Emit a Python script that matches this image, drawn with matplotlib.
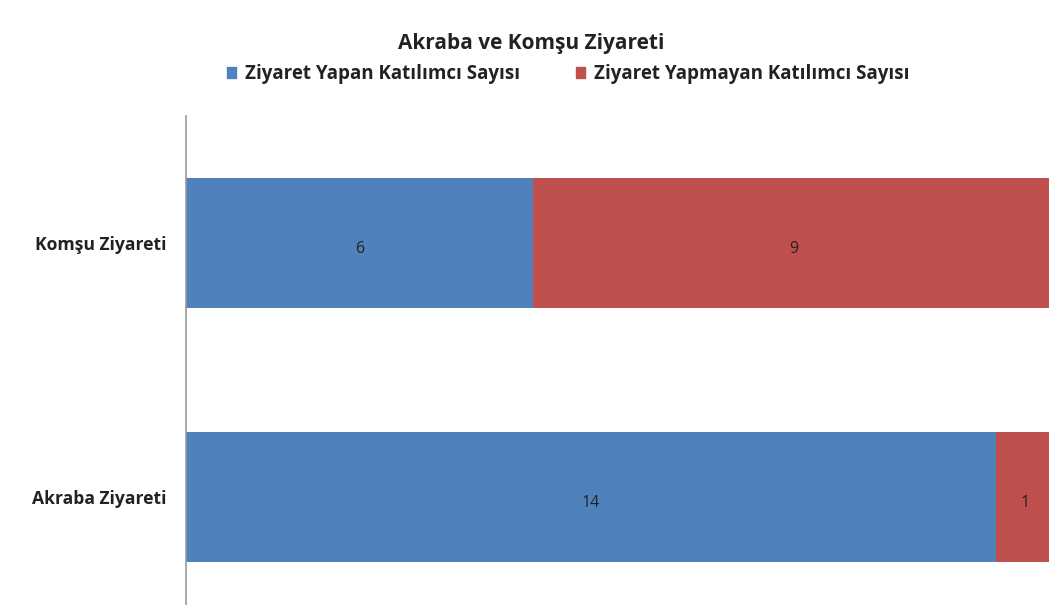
import matplotlib.pyplot as plt
from matplotlib.patches import Patch

categories = ['Akraba Ziyareti', 'Komşu Ziyareti']
yapan = [14, 6]
yapmayan = [1, 9]
series_names = ['Ziyaret Yapan Katılımcı Sayısı', 'Ziyaret Yapmayan Katılımcı Sayısı']
colors = ['#4F81BD', '#C0504D']

plt.rcParams['font.family'] = ['Open Sans', 'DejaVu Sans']

W, H = 1049, 605
fig = plt.figure(figsize=(W / 100, H / 100), dpi=100)
ax = fig.add_axes([186 / W, 1 - 624 / H, 868 / W, 508 / H])

pos = list(range(len(categories)))
b1 = ax.barh(pos, yapan, height=0.51, color=colors[0])
b2 = ax.barh(pos, yapmayan, left=yapan, height=0.51, color=colors[1])
for bars in (b1, b2):
    for ann in ax.bar_label(bars, label_type='center', fontsize=11.5, color='#222222'):
        ann.xyann = (0, -4)

ax.set_xlim(0, 15)
ax.set_ylim(-0.5, 1.5)
ax.set_yticks(pos)
ax.set_yticklabels(categories, fontsize=12.6, fontweight='bold', color='#222222')
ax.tick_params(axis='y', length=0, pad=14)
ax.set_xticks([])
for s in ['top', 'right', 'bottom']:
    ax.spines[s].set_visible(False)
ax.spines['left'].set_color('#999999')
ax.spines['left'].set_linewidth(1.2)
ax.spines['left'].set_clip_on(False)

fig.text(531 / W, 1 - 44 / H, 'Akraba ve Komşu Ziyareti', ha='center', va='center',
         fontsize=15, fontweight='bold', color='#222222')

handles = [Patch(color=c) for c in colors]
fig.legend(handles, series_names, loc='center', bbox_to_anchor=(568 / W, 1 - 74 / H), ncol=2,
           frameon=False, handlelength=0.5, handleheight=0.5, handletextpad=0.45,
           columnspacing=3.0, prop={'size': 13.5, 'weight': 'bold'}, labelcolor='#222222')

fig.savefig('out.png', dpi=100)
